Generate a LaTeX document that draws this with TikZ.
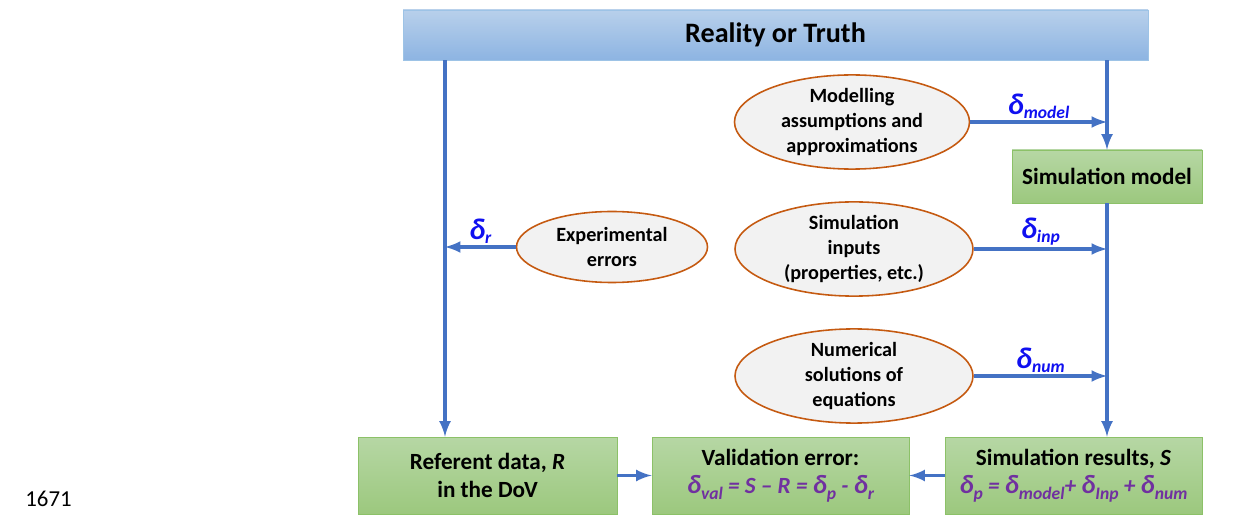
\documentclass[tikz,border=0pt]{standalone}
\usepackage{fontspec}
\setmainfont{Carlito}
\usetikzlibrary{shapes.geometric, arrows}
\definecolor{linecol}{HTML}{4472C4}
\definecolor{truthtop}{HTML}{B8D0EB}
\definecolor{truthbot}{HTML}{8DB4E2}
\definecolor{truthedge}{HTML}{9DC3E6}
\definecolor{greentop}{HTML}{B6D7A4}
\definecolor{greenbot}{HTML}{9CC87E}
\definecolor{greenedge}{HTML}{8CC168}
\definecolor{ellfill}{HTML}{F2F2F2}
\definecolor{elledge}{HTML}{C55A11}
\definecolor{dblue}{HTML}{1010F0}
\definecolor{fpurple}{HTML}{7030A0}
\tikzstyle{truthbox} = [rectangle, draw=truthedge, top color=truthtop, bottom color=truthbot, minimum width=14.9cm, minimum height=1cm, font=\fontsize{16}{18}\selectfont\bfseries]
\tikzstyle{greenbox} = [rectangle, draw=greenedge, top color=greentop, bottom color=greenbot, align=center, inner sep=0, font=\fontsize{13.2}{16}\selectfont\bfseries]
\tikzstyle{source} = [ellipse, draw=elledge, fill=ellfill, line width=0.9pt, align=center, inner sep=0, font=\fontsize{11.5}{14}\selectfont\bfseries]
\tikzstyle{arrow} = [line width=2pt, ->, >=latex, draw=linecol]
\tikzstyle{dlabel} = [above, text=dblue, inner sep=1pt, font=\bfseries\itshape]
\newcommand{\dsub}[1]{{\fontsize{17}{17}\selectfont δ}\raisebox{-0.5ex}{\fontsize{10}{10}\selectfont #1}}
\newcommand{\fsub}[1]{{\fontsize{15}{15}\selectfont δ}\raisebox{-0.5ex}{\fontsize{10}{10}\selectfont #1}}

\begin{document}
\begin{tikzpicture}
	\useasboundingbox (0, 0) rectangle (24.7, 10.3);
	\node[truthbox] (truth) at (15.51, 9.6) {Reality or Truth};
	\node[greenbox, minimum width=3.8cm, minimum height=1.06cm] (simmod) at (22.14, 6.77) {Simulation model};
	\node[greenbox, minimum width=5.18cm, minimum height=1.54cm] (refd) at (9.75, 0.79) {Referent data, \textit{R}\\in the DoV};
	\node[greenbox, minimum width=5.14cm, minimum height=1.54cm] (valerr) at (15.61, 0.79) {Validation error:\\{\color{fpurple}\itshape \fsub{val} = S -- R = \fsub{p} - \fsub{r}}};
	\node[greenbox, minimum width=5.14cm, minimum height=1.54cm] (simres) at (21.47, 0.79) {Simulation results, \textit{S}\\{\color{fpurple}\itshape \fsub{p} = \fsub{model}+ \fsub{Inp} + \fsub{num}}};
	\node[source, minimum width=4.7cm, minimum height=1.7cm] (model) at (17.04, 7.86) {Modelling\\assumptions and\\approximations};
	\node[source, minimum width=4.76cm, minimum height=1.68cm] (inputs) at (17.08, 5.32) {Simulation\\inputs\\(properties, etc.)};
	\node[source, minimum width=4.76cm, minimum height=1.66cm] (numsol) at (17.08, 2.78) {Numerical\\solutions of\\equations};
	\node[source, minimum width=3.82cm, minimum height=1.42cm] (experr) at (12.24, 5.36) {Experimental\\errors};
	\coordinate (lcol) at (8.9, 0);
	\node[anchor=south west, inner sep=0, font=\fontsize{13}{13}\selectfont] (lineno) at (0.5, 0.16) {1671};
	% left branch
	\draw[arrow] (truth.south -| lcol) -- (refd.north -| lcol);
	\draw[arrow] (experr.west) -- (experr.west -| lcol) node[midway, dlabel] {\dsub{r}};
	% right branch
	\draw[arrow] (truth.south -| simmod.north) -- (simmod.north);
	\draw[arrow] (simmod.south) -- (simmod.south |- simres.north);
	\draw[arrow] (model.east) -- (model.east -| simmod.north) node[midway, dlabel] {\dsub{model}};
	\draw[arrow] (inputs.east) -- (inputs.east -| simmod.north) node[midway, dlabel] {\dsub{inp}};
	\draw[arrow] (numsol.east) -- (numsol.east -| simmod.north) node[midway, dlabel] {\dsub{num}};
	% bottom row
	\draw[arrow] (refd) -- (valerr);
	\draw[arrow] (simres) -- (valerr);
\end{tikzpicture}
\end{document}
